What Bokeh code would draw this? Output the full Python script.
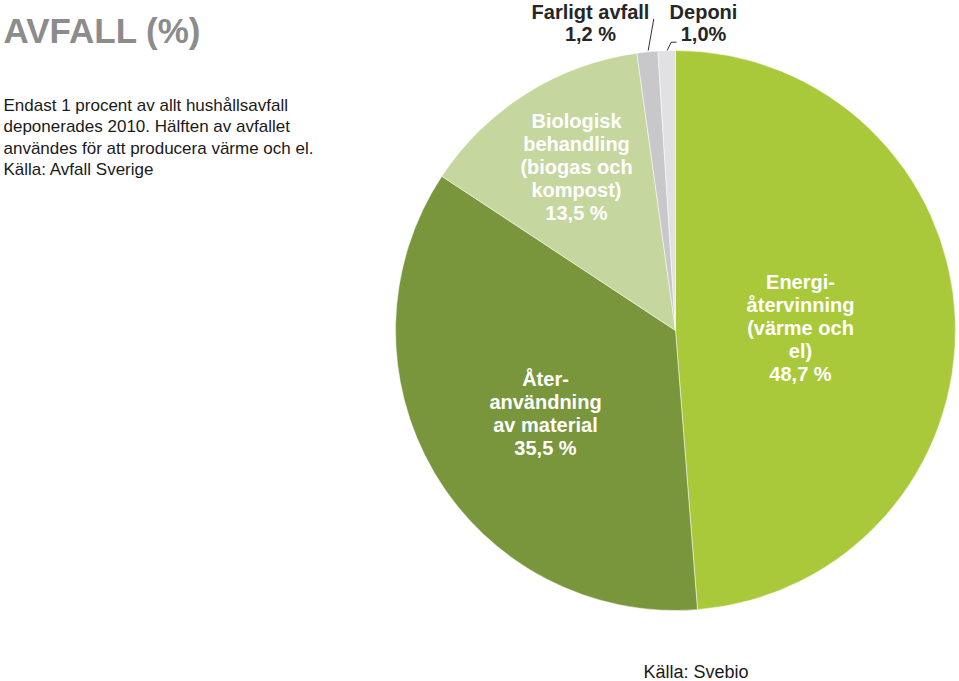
import numpy as np
from bokeh.plotting import figure
from bokeh.models import Range1d, ColumnDataSource
from bokeh.core.properties import value
from bokeh.embed import file_html
from bokeh.resources import INLINE

# ---- data ----
categories = ["Energiåtervinning", "Återanvändning av material", "Biologisk behandling",
              "Farligt avfall", "Deponi"]
shares = [48.7, 35.5, 13.5, 1.2, 1.0]
inner_labels = [
    ["Energi-", "återvinning", "(värme och", "el)", "48,7 %"],
    ["Åter-", "användning", "av material", "35,5 %"],
    ["Biologisk", "behandling", "(biogas och", "kompost)", "13,5 %"],
]
outer_labels = [["Farligt avfall", "1,2 %"], ["Deponi", "1,0%"]]
title_text = "AVFALL (%)"
intro_lines = ["Endast 1 procent av allt hushållsavfall",
               "deponerades 2010. Hälften av avfallet",
               "användes för att producera värme och el.",
               "Källa: Avfall Sverige"]
source_text = "Källa: Svebio"

# ---- styles ----
colors = ["#a9c93a", "#7a963c", "#c5d69f", "#c8c8ca", "#e1e1e3"]
W, H = 959, 681
cx, cy, R = 675, -330, 280

p = figure(width=W, height=H, output_backend="svg", toolbar_location=None,
           x_range=Range1d(0, W), y_range=Range1d(-H, 0),
           min_border=0)
p.axis.visible = False
p.grid.visible = False
p.outline_line_color = None
p.background_fill_color = "white"
p.border_fill_color = "white"

fr = np.array(shares) / sum(shares)
cum = np.concatenate([[0], np.cumsum(fr)])
start = np.pi / 2 - 2 * np.pi * cum[1:]
end = np.pi / 2 - 2 * np.pi * cum[:-1]
src = ColumnDataSource(dict(start=start, end=end, color=colors, cat=categories))
p.wedge(x=cx, y=cy, radius=R, start_angle="start", end_angle="end",
        fill_color="color", line_color="white", line_width=0.5, source=src)

font = value("Liberation Sans")

# inner labels (white, bold)
inner_pos = [(800, 281), (545, 378), (576, 120)]
for (lx, ly), lines in zip(inner_pos, inner_labels):
    xs = [lx] * len(lines)
    ys = [-(ly + 23.2 * i) for i in range(len(lines))]
    p.text(x=xs, y=ys, text=lines, text_font=font, text_font_size="20px",
           text_font_style="bold", text_color="white", text_align="center",
           text_baseline="middle")

# outer labels
outer_pos = [(590, 11), (703, 11)]
for (lx, ly), lines in zip(outer_pos, outer_labels):
    xs = [lx] * len(lines)
    ys = [-(ly + 22.5 * i) for i in range(len(lines))]
    p.text(x=xs, y=ys, text=lines, text_font=font, text_font_size="20px",
           text_font_style="bold", text_color="#262626", text_align="center",
           text_baseline="middle")

# leader lines
p.line(x=[653.3, 647.7], y=[-18.3, -50], line_color="#333333", line_width=1)
p.line(x=[666.7, 670.7, 676], y=[-50, -41.7, -41.7], line_color="#333333", line_width=1)

# title
p.text(x=[3], y=[-30], text=[title_text], text_font=font, text_font_size="35px",
       text_font_style="bold", text_color="#8c8c8c", text_align="left",
       text_baseline="middle")

# intro paragraph
p.text(x=[3] * len(intro_lines), y=[-(105 + 21.4 * i) for i in range(len(intro_lines))],
       text=intro_lines, text_font=font, text_font_size="17px", text_color="#1a1a1a",
       text_align="left", text_baseline="middle")

# source
p.text(x=[643], y=[-671], text=[source_text], text_font=font, text_font_size="18px",
       text_color="#1a1a1a", text_align="left", text_baseline="middle")

open("out.html", "w").write(file_html(p, INLINE))
